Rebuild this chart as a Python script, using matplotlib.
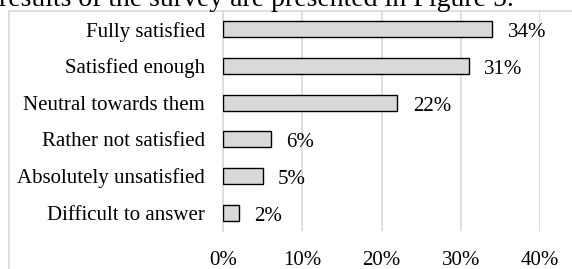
import matplotlib
matplotlib.use("Agg")
import matplotlib.pyplot as plt
from matplotlib.patches import Rectangle
from matplotlib.ticker import FuncFormatter

categories = ["Fully satisfied", "Satisfied enough", "Neutral towards them",
              "Rather not satisfied", "Absolutely unsatisfied", "Difficult to answer"]
values = [34, 31, 22, 6, 5, 2]
xticks = [0, 10, 20, 30, 40]

plt.rcParams["font.family"] = ["Liberation Serif", "DejaVu Serif"]

W, H = 572, 269
fig = plt.figure(figsize=(W / 100, H / 100), dpi=100)
ax = fig.add_axes([223.3 / W, 1 - 231 / H, (540 - 223.3) / W, 220 / H])

# chart frame (cut off on the right and bottom like the source page)
fig.patches.append(Rectangle((9 / W, -0.1), 1.0, 1 - 11 / H + 0.1,
                             transform=fig.transFigure, fill=False,
                             edgecolor="#d9d9d9", linewidth=1.2, clip_on=False))

# partial line of the page text above the chart
fig.text(-0.002, 1 - 6 / H, "results of the survey are presented in Figure 5.",
         fontsize=20, ha="left", va="baseline", color="black")

pos = list(range(len(categories)))
ax.barh(pos, values, height=0.44, color="#d9d9d9", edgecolor="black",
        linewidth=1.0, zorder=3)
for p, v in zip(pos, values):
    ax.annotate(f"{v}%", (v, p), xytext=(11, -2.5), textcoords="offset points",
                va="center", ha="left", fontsize=15)

ax.set_ylim(len(categories) - 0.5, -0.5)
ax.set_xlim(0, 40)
ax.set_yticks(pos)
ax.set_yticklabels(categories, fontsize=15)
ax.set_xticks(xticks)
ax.xaxis.set_major_formatter(FuncFormatter(lambda x, _: f"{x:.0f}%"))
ax.tick_params(axis="x", labelsize=15, length=0, pad=14.5)
ax.tick_params(axis="y", length=0, pad=13)
ax.grid(axis="x", color="#d9d9d9", linewidth=1.2, zorder=0)
for s in ["top", "right", "bottom"]:
    ax.spines[s].set_visible(False)
ax.spines["left"].set_color("#d9d9d9")
ax.spines["left"].set_linewidth(1.2)
ax.patch.set_alpha(0)

fig.savefig("out.png", dpi=100)
